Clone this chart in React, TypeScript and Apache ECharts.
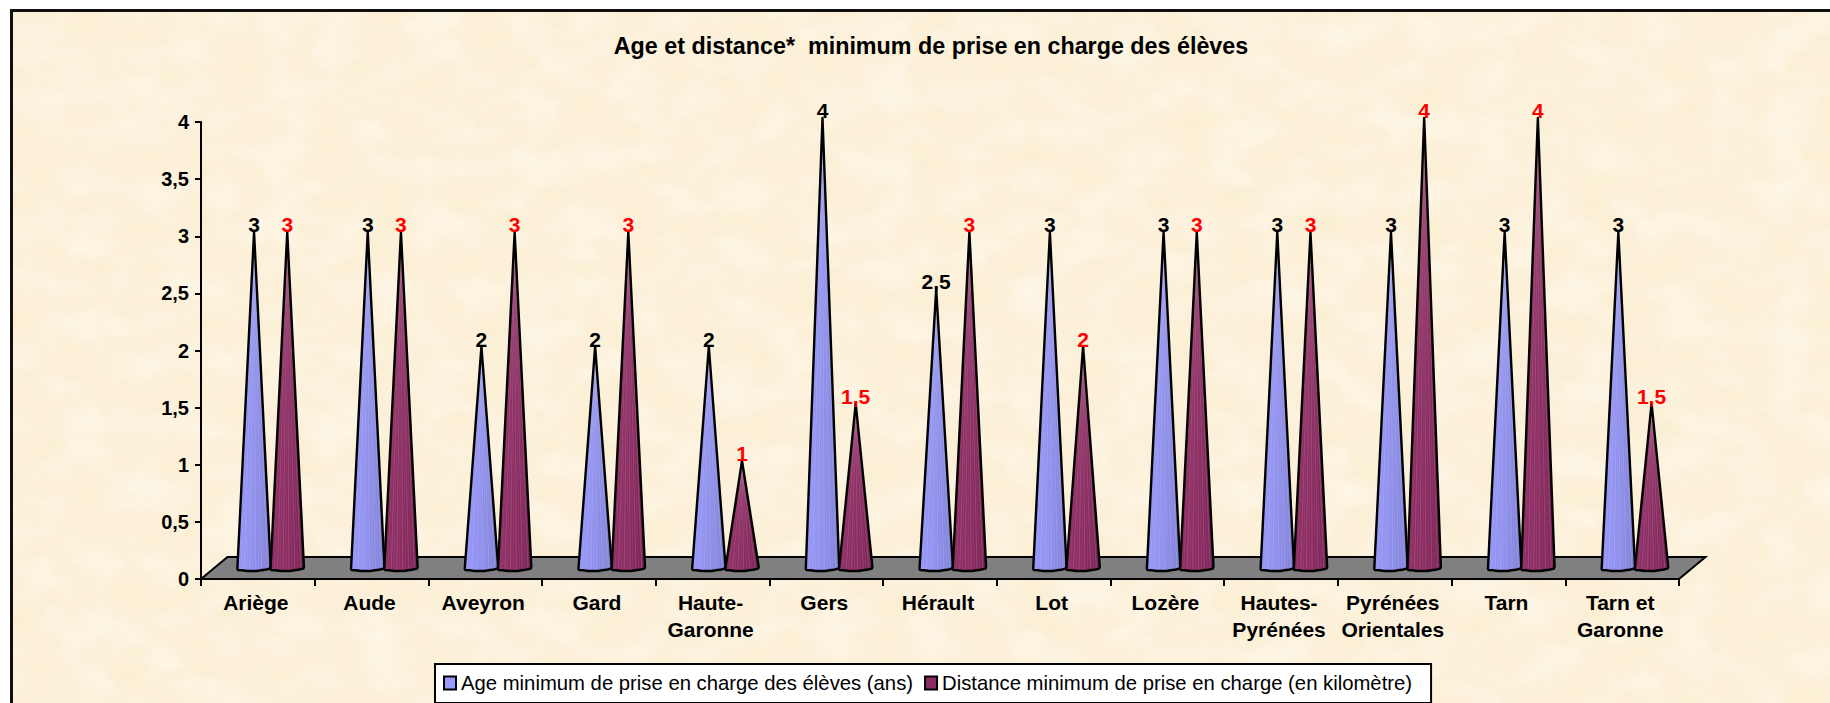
import React, { useEffect, useRef } from "react";
import * as echarts from "echarts";

const titleText = "Age et distance*  minimum de prise en charge des élèves";
const categories = ["Ariège", "Aude", "Aveyron", "Gard", "Haute-\nGaronne", "Gers", "Hérault", "Lot", "Lozère", "Hautes-\nPyrénées", "Pyrénées\nOrientales", "Tarn", "Tarn et\nGaronne"];
const ageName = "Age minimum de prise en charge des élèves (ans)";
const distanceName = "Distance minimum de prise en charge (en kilomètre)";
const ageValues = [3, 3, 2, 2, 2, 4, 2.5, 3, 3, 3, 3, 3, 3];
const distanceValues = [3, 3, 3, 3, 1, 1.5, 3, 2, 3, 3, 4, 4, 1.5];

const FONT = '"Liberation Sans", Arial, sans-serif';
const comma = (v: number) => String(v).replace(".", ",");

const noise = encodeURIComponent(
  `<svg xmlns='http://www.w3.org/2000/svg' width='1830' height='703'>
  <filter id='a' x='0' y='0' width='100%' height='100%'><feTurbulence type='fractalNoise' baseFrequency='0.03 0.04' numOctaves='4' seed='7'/>
  <feColorMatrix values='0 0 0 0 0.93  0 0 0 0 0.84  0 0 0 0 0.58  0.9 0 0 0 -0.38'/></filter>
  <filter id='b' x='0' y='0' width='100%' height='100%'><feTurbulence type='fractalNoise' baseFrequency='0.02 0.03' numOctaves='3' seed='23'/>
  <feColorMatrix values='0 0 0 0 1  0 0 0 0 0.98  0 0 0 0 0.94  1.0 0 0 0 -0.42'/></filter>
  <rect width='1830' height='703' filter='url(#a)'/><rect width='1830' height='703' filter='url(#b)'/></svg>`
);

function coneRenderer(dx: number, colors: string[], labelColor: string) {
  return (_params: any, api: any) => {
    const v = api.value(1);
    const c = api.coord([api.value(0), v]);
    const y0 = api.coord([api.value(0), 0])[1];
    const cx = c[0] + dx;
    const tipY = c[1] - 4;
    const baseY = y0 - 8;
    const hw = 16.7;
    const outline = [
      [cx, tipY],
      [cx + hw, baseY - 4],
      [cx + hw - 0.6, baseY - 2.5],
      [cx + 11, baseY - 1.2],
      [cx + 7, baseY - 0.8],
      [cx + 3, baseY],
      [cx - 7, baseY],
      [cx - 12, baseY - 0.8],
      [cx - hw + 0.6, baseY - 1],
      [cx - hw, baseY - 2],
    ];
    const stripes = [-0.78, -0.58, -0.42, -0.25, -0.08, 0.1, 0.28, 0.46, 0.62, 0.8].map((f, i) => ({
      type: "line",
      shape: { x1: cx + f * 0.12, y1: tipY + 6, x2: cx + f * hw, y2: baseY - 1 },
      style: { stroke: "rgba(255,255,255," + (i % 2 ? 0.14 : 0.07) + ")", lineWidth: 1 },
    }));
    return {
      type: "group",
      children: [
        {
          type: "polygon",
          shape: { points: outline },
          style: {
            fill: new echarts.graphic.LinearGradient(0, 0, 1, 0, [
              { offset: 0, color: colors[0] },
              { offset: 0.5, color: colors[1] },
              { offset: 1, color: colors[2] },
            ]),
          },
        },
        ...stripes,
        {
          type: "polygon",
          shape: { points: outline },
          style: { fill: "none", stroke: "#000", lineWidth: 2.4, lineJoin: "round" },
        },
        {
          type: "text",
          style: {
            text: comma(v),
            x: cx,
            y: tipY - 7.5,
            align: "center",
            verticalAlign: "middle",
            font: "bold 21px " + FONT,
            fill: labelColor,
          },
        },
      ],
    };
  };
}

export default function App() {
  const ref = useRef<HTMLDivElement>(null);
  useEffect(() => {
    const chart = echarts.init(ref.current!, undefined, { renderer: "svg" });
    chart.setOption({
      animation: false,
      backgroundColor: "transparent",
      title: {
        text: titleText,
        left: 926,
        top: 29,
        textAlign: "center",
        textStyle: { fontFamily: FONT, fontSize: 23.3, fontWeight: "bold", color: "#000" },
      },
      legend: {
        data: [ageName, distanceName],
        left: 435,
        top: 664,
        padding: [9, 19, 10, 8],
        itemGap: 11,
        itemWidth: 12,
        itemHeight: 13,
        icon: "rect",
        backgroundColor: "#fff",
        borderColor: "#000",
        borderWidth: 2,
        inactiveColor: "#000",
        selectedMode: false,
        textStyle: { fontFamily: FONT, fontSize: 20.3, color: "#000" },
      },
      grid: { left: 201, top: 122, width: 1478, height: 457 },
      xAxis: {
        type: "category",
        data: categories,
        boundaryGap: true,
        z: 5,
        axisLine: { lineStyle: { color: "#000", width: 2 } },
        axisTick: { show: true, alignWithLabel: false, length: 7, lineStyle: { color: "#000", width: 2 } },
        axisLabel: {
          interval: 0,
          margin: 10,
          fontFamily: FONT,
          fontSize: 21,
          fontWeight: "bold",
          color: "#000",
          lineHeight: 27,
          padding: [0, 4, 0, 0],
        },
      },
      yAxis: {
        type: "value",
        min: 0,
        max: 4,
        interval: 0.5,
        splitLine: { show: false },
        axisLine: { show: true, lineStyle: { color: "#000", width: 2 } },
        axisTick: { show: true, length: 6, lineStyle: { color: "#000", width: 2 } },
        axisLabel: {
          margin: 12,
          fontFamily: FONT,
          fontSize: 20,
          fontWeight: "bold",
          color: "#000",
          formatter: (v: number) => comma(v),
        },
      },
      series: [
        {
          type: "custom",
          silent: true,
          z: 1,
          data: [[0, 0]],
          renderItem: (params: any) => {
            const s = params.coordSys;
            const bottom = s.y + s.height;
            const right = s.x + s.width;
            return {
              type: "polygon",
              shape: {
                points: [
                  [s.x, bottom],
                  [s.x + 26.5, bottom - 22],
                  [right + 26.5, bottom - 22],
                  [right, bottom],
                ],
              },
              style: { fill: "#808080", stroke: "#000", lineWidth: 2 },
            };
          },
        },
        {
          type: "custom",
          name: ageName,
          z: 2,
          silent: true,
          itemStyle: { color: "#9999FF", borderColor: "#000", borderWidth: 2 },
          data: ageValues.map((v, i) => [i, v]),
          encode: { x: 0, y: 1 },
          renderItem: coneRenderer(-3.8, ["#9898fa", "#8f8fec", "#8282d6"], "#000"),
        },
        {
          type: "custom",
          name: distanceName,
          z: 3,
          silent: true,
          itemStyle: { color: "#8B2C62", borderColor: "#000", borderWidth: 2 },
          data: distanceValues.map((v, i) => [i, v]),
          encode: { x: 0, y: 1 },
          renderItem: coneRenderer(29.4, ["#8f3066", "#8c2c62", "#7c2558"], "#ff0000"),
        },
      ],
    });
    return () => chart.dispose();
  }, []);
  return (
    <div style={{ position: "absolute", left: 0, top: 0, width: 1830, height: 703, background: "#fff", overflow: "hidden" }}>
      <div
        style={{
          position: "absolute",
          left: 10,
          top: 9,
          width: 1817,
          height: 691,
          borderLeft: "3px solid #111",
          borderTop: "3px solid #111",
          backgroundColor: "#fcf0d9",
          backgroundImage: `url("data:image/svg+xml,${noise}")`,
        }}
      />
      <div ref={ref} style={{ position: "absolute", left: 0, top: 0, width: 1830, height: 703 }} />
    </div>
  );
}
